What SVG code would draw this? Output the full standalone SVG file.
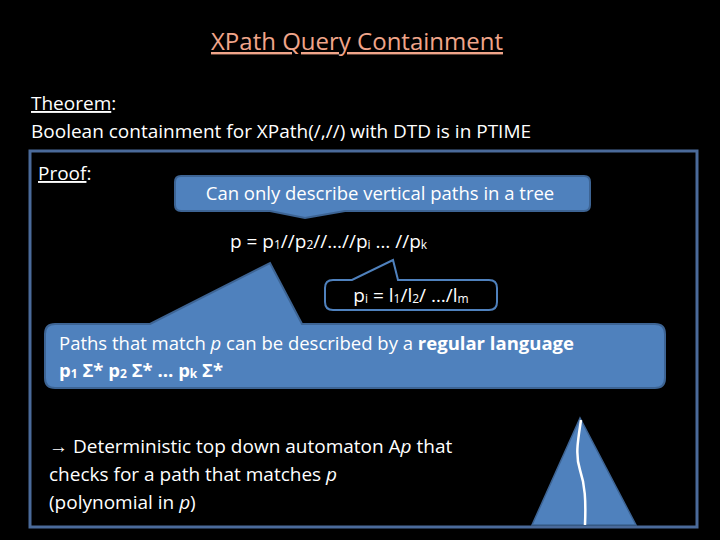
<svg xmlns="http://www.w3.org/2000/svg" width="720" height="540" viewBox="0 0 720 540">
<style>
text{font-family:"Open Sans","Liberation Sans",sans-serif;fill:#fff}
.s{font-size:19px}
.blue{fill:#4f81bd;stroke:#3d6494;stroke-width:2}
sub,.sub{font-size:12px}
</style>
<rect width="720" height="540" fill="#000"/>
<text x="357" y="50" text-anchor="middle" font-size="24" style="fill:#f0a58a" text-decoration="underline">XPath Query Containment</text>
<text x="31" y="110" class="s"><tspan text-decoration="underline">Theorem</tspan>:</text>
<text x="31" y="138" class="s">Boolean containment for XPath(/,//)  with DTD is in PTIME</text>
<rect x="30" y="151" width="667" height="376" fill="#000" stroke="#4a6a9a" stroke-width="3"/>
<text x="38" y="180" class="s"><tspan text-decoration="underline">Proof</tspan>:</text>
<g id="callout1">
<path class="blue" d="M181,176 H584 Q590,176 590,182 V205 Q590,211 584,211 H345 L305,218 L270,211 H181 Q175,211 175,205 V182 Q175,176 181,176 Z"/>
<text x="380" y="200" text-anchor="middle" font-size="18.5">Can only describe vertical paths in a tree</text>
</g>
<text x="230" y="248" class="s">p = p<tspan class="sub" dy="1">1</tspan><tspan dy="-1">//p</tspan><tspan class="sub" dy="1">2</tspan><tspan dy="-1">//…//p</tspan><tspan class="sub" dy="1">i</tspan><tspan dy="-1"> … //p</tspan><tspan class="sub" dy="1">k</tspan></text>
<g id="callout2">
<path d="M333,280 H352 L393,260 L398,280 H489 Q497,280 497,288 V302 Q497,310 489,310 H333 Q325,310 325,302 V288 Q325,280 333,280 Z" fill="#000" stroke="#4f81bd" stroke-width="2"/>
<text x="411" y="302" text-anchor="middle" class="s">p<tspan class="sub" dy="1">i</tspan><tspan dy="-1"> = l</tspan><tspan class="sub" dy="1">1</tspan><tspan dy="-1">/l</tspan><tspan class="sub" dy="1">2</tspan><tspan dy="-1">/ …/l</tspan><tspan class="sub" dy="1">m</tspan></text>
</g>
<g id="callout3">
<path class="blue" d="M55,324 H150 L270,263 L302,324 H655 Q665,324 665,334 V378 Q665,388 655,388 H55 Q45,388 45,378 V334 Q45,324 55,324 Z"/>
<text x="59" y="350" font-size="18.5">Paths that match <tspan font-style="italic">p</tspan> can be described by a <tspan font-weight="bold">regular language</tspan></text>
<text x="59" y="377" font-size="18.5" font-weight="bold">p<tspan class="sub" dy="1">1</tspan><tspan dy="-1"> Σ* p</tspan><tspan class="sub" dy="1">2</tspan><tspan dy="-1"> Σ* … p</tspan><tspan class="sub" dy="1">k</tspan><tspan dy="-1"> Σ*</tspan></text>
</g>
<text x="49" y="453" class="s">→ Deterministic  top down automaton A<tspan font-style="italic">p</tspan> that</text>
<text x="49" y="481" class="s">checks for a path that matches <tspan font-style="italic">p</tspan></text>
<text x="49" y="509" class="s">(polynomial in <tspan font-style="italic">p</tspan>)</text>
<g id="tree">
<polygon points="580,418 532,525 636,525" fill="#4f81bd" stroke="#3d6494" stroke-width="1.5"/>
<path d="M581,420 C578,440 575,455 580,470 C585,485 586,500 585,525" fill="none" stroke="#fff" stroke-width="2.5"/>
</g>
</svg>
